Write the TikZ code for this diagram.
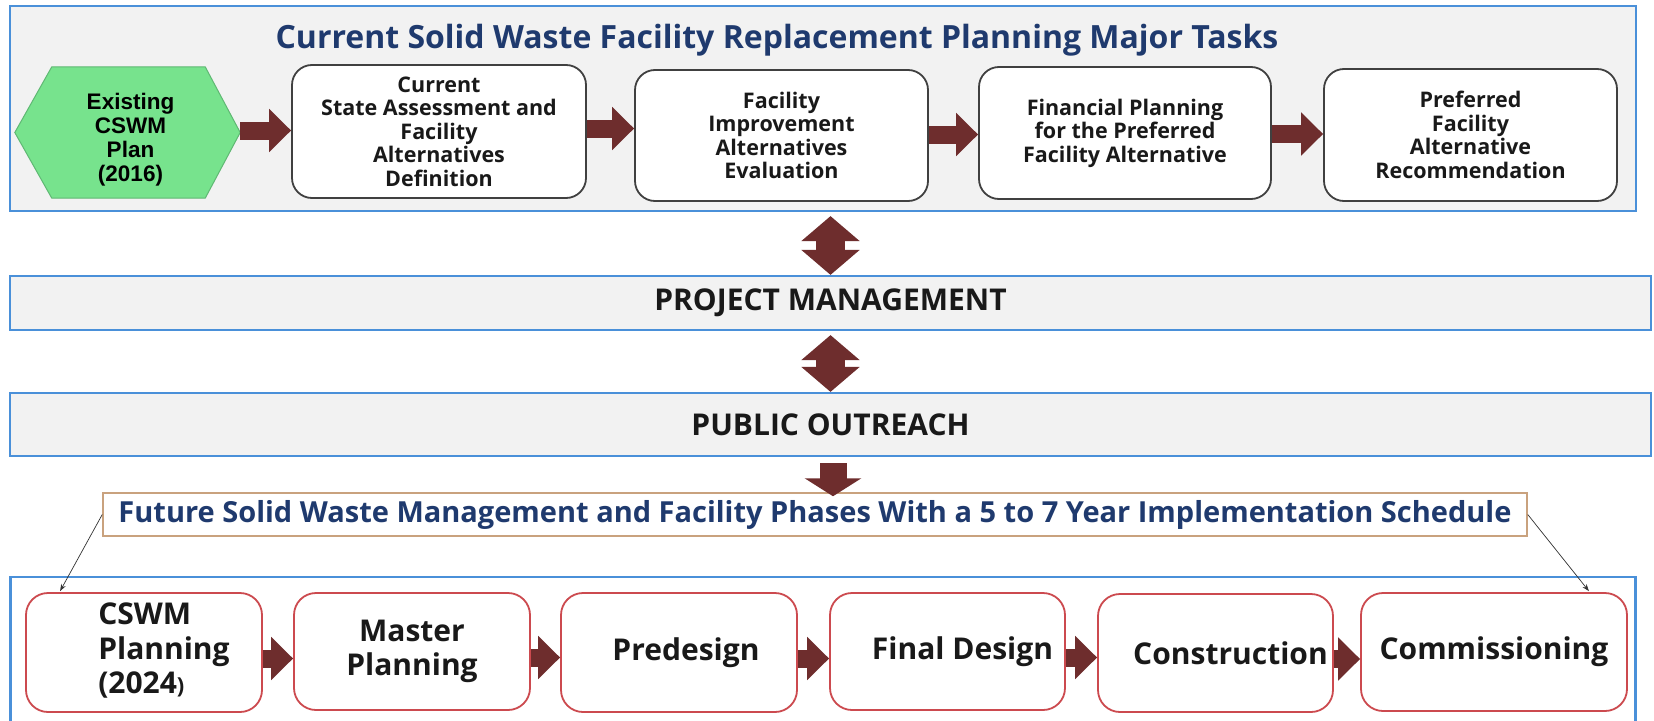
\documentclass[tikz,border=0pt]{standalone}
\usepackage{fontspec}
\setmainfont{Open Sans}
\newfontfamily\arialfont{Liberation Sans}
\usetikzlibrary{arrows.meta,calc}
\definecolor{panelfill}{HTML}{F2F2F2}
\definecolor{panelblue}{HTML}{4A90D9}
\definecolor{navy}{HTML}{1F3A6E}
\definecolor{arrowred}{HTML}{6E2D2D}
\definecolor{boxred}{HTML}{CC4A4F}
\definecolor{boxgray}{HTML}{404040}
\definecolor{tanline}{HTML}{C9A27E}
\definecolor{hexgreen}{HTML}{77E38D}
\definecolor{hexedge}{HTML}{5FB873}
\pgfdeclarelayer{panels}
\pgfdeclarelayer{mid}
\pgfsetlayers{panels,mid,main}
\begin{document}
\begin{tikzpicture}[x=1pt,y=-1pt,
  panel/.style={draw=panelblue,line width=2.2pt,fill=panelfill,inner sep=0pt},
  titletext/.style={text=navy,font=\bfseries\fontsize{32}{36}\selectfont},
  taskbox/.style={draw=boxgray,line width=1.8pt,fill=white,rounded corners=20pt,align=center,
    font=\bfseries\fontsize{21.5}{23.5}\selectfont,text=black!90,inner sep=0pt},
  phasebox/.style={draw=boxred,line width=1.8pt,fill=white,rounded corners=22pt,align=center,
    font=\bfseries\fontsize{30}{34.5}\selectfont,text=black!90,inner sep=0pt,
    minimum width=236pt,minimum height=118pt},
  bandtext/.style={font=\bfseries\fontsize{30}{34}\selectfont,text=black!90},
  bigarrow/.style={draw=arrowred,line width=18pt,-{Triangle[length=22pt,width=42pt]}},
  dblarrow/.style={draw=arrowred,line width=29pt,{Triangle[length=25pt,width=57pt]}-{Triangle[length=25pt,width=57pt]}},
  downarrow/.style={draw=arrowred,line width=27pt,-{Triangle[length=18pt,width=56pt]}},
  thinarrow/.style={draw=black!80,line width=0.7pt,-{Stealth[length=7pt,width=5pt]}}
]
\useasboundingbox (0,0) rectangle (1654,720);

\begin{pgfonlayer}{panels}
  \fill[white] (0,0) rectangle (1654,720);
  \node[panel,minimum width=1626pt,minimum height=205pt] (toppanel) at (823,108.5) {};
  \node[panel,fill=white,minimum width=1625pt,minimum height=170pt] (botpanel) at (823,662) {};
\end{pgfonlayer}

% top section
\node[titletext] (title) at (777,40) {Current Solid Waste Facility Replacement Planning Major Tasks};

\node[minimum width=225pt,minimum height=131pt,inner sep=0pt,
  font=\arialfont\bfseries\fontsize{22.5}{24}\selectfont] (hex) at (127.5,132.5)
  {\raisebox{-13pt}[0pt][0pt]{\hspace*{6pt}\begin{tabular}{@{}c@{}}Existing\\CSWM\\Plan\\(2016)\end{tabular}}};
\begin{pgfonlayer}{mid}
  \filldraw[fill=hexgreen,draw=hexedge,line width=1pt]
    (hex.west) -- ([xshift=37pt]hex.north west) -- ([xshift=-35pt]hex.north east)
    -- (hex.east) -- ([xshift=-35pt]hex.south east) -- ([xshift=37pt]hex.south west) -- cycle;
\end{pgfonlayer}

\node[taskbox,minimum width=294pt,minimum height=133pt] (b2) at (439,131.5)
  {Current\\State Assessment and\\Facility\\Alternatives\\Definition};
\node[taskbox,minimum width=293pt,minimum height=131pt] (b3) at (781.5,135.5)
  {Facility\\Improvement\\Alternatives\\Evaluation};
\node[taskbox,minimum width=292pt,minimum height=132pt] (b4) at (1125,133)
  {Financial Planning\\for the Preferred\\Facility Alternative};
\node[taskbox,minimum width=293pt,minimum height=132pt] (b5) at (1470.5,135)
  {Preferred\\Facility\\Alternative\\Recommendation};

\draw[bigarrow] ([yshift=2pt]hex.east) -- ([yshift=2pt]hex.east -| b2.west);
\draw[bigarrow] ([yshift=3pt]b2.east) -- ([yshift=3pt]b2.east -| b3.west);
\draw[bigarrow] ([yshift=1pt]b3.east) -- ([yshift=1pt]b3.east -| b4.west);
\draw[bigarrow] ([yshift=-1pt]b4.east) -- ([yshift=-1pt]b4.east -| b5.west);

% bands
\node[panel,minimum width=1641pt,minimum height=54pt] (pm) at (830.5,303) {};
\node[bandtext] (pmtext) at (pm.center) {PROJECT MANAGEMENT};
\node[panel,minimum width=1641pt,minimum height=63pt] (po) at (830.5,424.5) {};
\node[bandtext] (potext) at (po.center) {PUBLIC OUTREACH};

\draw[dblarrow,shorten <=4pt] (toppanel.south -| pm.north) -- (pm.north);
\draw[dblarrow,shorten <=4pt] (pm.south) -- (po.north);

% future heading
\node[draw=tanline,line width=1.5pt,fill=white,minimum width=1424pt,minimum height=43pt,
  inner sep=0pt,text=navy,font=\bfseries\fontsize{29}{33}\selectfont] (future) at (815,514.5)
  {Future Solid Waste Management and Facility Phases With a 5 to 7 Year Implementation Schedule};
\draw[downarrow,shorten <=6pt,shorten >=-4pt] (po.south -| 833,0) -- (future.north -| 833,0);

% bottom phases
\node[phasebox,minimum height=119pt] (c1) at (144,652.5)
  {\hspace*{40pt}\begin{tabular}{@{}l@{}}CSWM\\Planning\\(2024{\fontsize{22}{26}\selectfont)}\end{tabular}};
\node[phasebox,minimum height=117pt] (c2) at (412,651.5) {Master\\Planning};
\node[phasebox,minimum height=119pt] (c3) at (679,652.5) {\hspace*{14pt}Predesign};
\node[phasebox,minimum width=235pt,minimum height=117pt] (c4) at (947.5,651.5) {\hspace*{30pt}Final Design};
\node[phasebox,minimum width=235pt,minimum height=118pt] (c5) at (1215.5,653) {\hspace*{30pt}Construction};
\node[phasebox,minimum width=266pt,minimum height=118pt] (c6) at (1494,652) {Commissioning};

\draw[bigarrow] ([yshift=-6pt]c1.east) -- ([yshift=-6pt]c1.east -| c2.west);
\draw[bigarrow] ([yshift=-6pt]c2.east) -- ([yshift=-6pt]c2.east -| c3.west);
\draw[bigarrow] ([yshift=-6pt]c3.east) -- ([yshift=-6pt]c3.east -| c4.west);
\draw[bigarrow] ([yshift=-6pt]c4.east) -- ([yshift=-6pt]c4.east -| c5.west);
\draw[bigarrow] ([yshift=-6pt]c5.east) -- ([yshift=-6pt]c5.east -| c6.west);

\coordinate (c1tip) at ([xshift=35pt,yshift=1pt]c1.north west);
\coordinate (c6tip) at ([xshift=-39pt,yshift=1pt]c6.north east);
\draw[thinarrow] (future.west) -- (c1tip);
\draw[thinarrow] (future.east) -- (c6tip);
\end{tikzpicture}
\end{document}
